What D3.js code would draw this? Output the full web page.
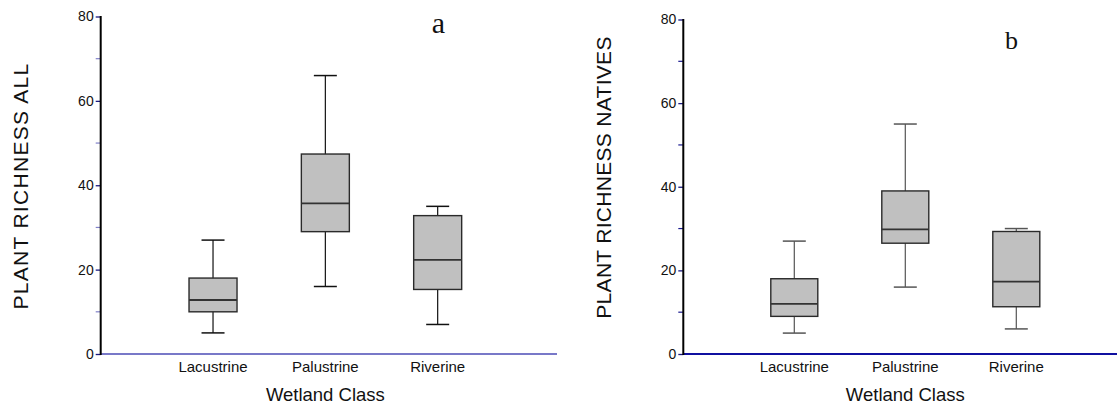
<!DOCTYPE html>
<html>
<head>
<meta charset="utf-8">
<script src="https://cdn.jsdelivr.net/npm/d3@7"></script>
<style>
  body { margin: 0; background: #fff; }
  svg { display: block; font-family: Arial, "Liberation Sans", sans-serif; }
</style>
</head>
<body>
<svg id="chart" width="1117" height="409"></svg>
<script>
// categories + box stats
var classes = ["Lacustrine", "Palustrine", "Riverine"];
var yTicks = [0, 20, 40, 60, 80];
var yMinorTicks = [10, 30, 50, 70];

// panel a: all species
var allMin = [5, 16, 7],
    allQ1 = [10, 29, 15.3],
    allMed = [12.8, 35.7, 22.3],
    allQ3 = [18, 47.4, 32.8],
    allMax = [27, 66, 35];

// panel b: natives only
var natMin = [5, 16, 6],
    natQ1 = [9, 26.5, 11.3],
    natMed = [12, 29.8, 17.3],
    natQ3 = [18, 39, 29.3],
    natMax = [27, 55, 30];

var svg = d3.select("#chart");

function buildRows(mins, q1s, meds, q3s, maxs) {
  return classes.map(function(c, i) {
    return {name: c, min: mins[i], q1: q1s[i], med: meds[i], q3: q3s[i], max: maxs[i]};
  });
}

function drawPanel(opt) {
  var rows = buildRows(opt.min, opt.q1, opt.med, opt.q3, opt.max);

  var y = d3.scaleLinear().domain([0, 80]).range([opt.y0, opt.yTop]);
  var x = d3.scalePoint().domain(classes).range([opt.left, opt.rightEnd]).padding(1);

  var g = svg.append("g");

  // whiskers
  g.selectAll(".whisker")
    .data(rows)
    .enter().append("line")
      .attr("x1", function(d) {return x(d.name);})
      .attr("x2", function(d) {return x(d.name);})
      .attr("y1", function(d) {return y(d.min);})
      .attr("y2", function(d) {return y(d.max);})
      .attr("stroke", opt.whiskerColor)
      .attr("stroke-width", 1.2);

  // caps top and bottom
  ["min", "max"].forEach(function(k) {
    g.selectAll(".cap-" + k)
      .data(rows)
      .enter().append("line")
        .attr("x1", function(d) {return x(d.name) - opt.capW / 2;})
        .attr("x2", function(d) {return x(d.name) + opt.capW / 2;})
        .attr("y1", function(d) {return y(d[k]);})
        .attr("y2", function(d) {return y(d[k]);})
        .attr("stroke", opt.whiskerColor)
        .attr("stroke-width", 1.5);
  });

  // boxes
  g.selectAll(".box")
    .data(rows)
    .enter().append("rect")
      .attr("x", function(d) {return x(d.name) - opt.boxW / 2;})
      .attr("y", function(d) {return y(d.q3);})
      .attr("width", opt.boxW)
      .attr("height", function(d) {return y(d.q1) - y(d.q3);})
      .attr("fill", "#c0c0c0")
      .attr("stroke", "#2a2a2a")
      .attr("stroke-width", 1.4);

  // medians
  g.selectAll(".median")
    .data(rows)
    .enter().append("line")
      .attr("x1", function(d) {return x(d.name) - opt.boxW / 2;})
      .attr("x2", function(d) {return x(d.name) + opt.boxW / 2;})
      .attr("y1", function(d) {return y(d.med);})
      .attr("y2", function(d) {return y(d.med);})
      .attr("stroke", "#333")
      .attr("stroke-width", 1.8);

  // x axis line (no ticks)
  g.append("line")
    .attr("x1", opt.left).attr("x2", opt.axisEnd)
    .attr("y1", y(0)).attr("y2", y(0))
    .attr("stroke", opt.xAxisColor)
    .attr("stroke-width", 2);

  // minor ticks
  g.selectAll(".minor")
    .data(yMinorTicks)
    .enter().append("line")
      .attr("x1", opt.left - 5).attr("x2", opt.left)
      .attr("y1", function(d) {return y(d);})
      .attr("y2", function(d) {return y(d);})
      .attr("stroke", opt.minorColor)
      .attr("stroke-width", 1.2);

  // y axis
  var yAxis = g.append("g")
    .attr("transform", "translate(" + opt.left + ",0)")
    .call(d3.axisLeft(y).tickValues(yTicks).tickSize(5).tickPadding(2).tickFormat(d3.format("d")));
  yAxis.select(".domain").remove();
  yAxis.selectAll(".tick line").attr("stroke", "#1a1a80").attr("stroke-width", 1.3);
  yAxis.selectAll(".tick text")
    .attr("fill", "#111")
    .style("font-size", "14px")
    .style("font-family", "Arial, 'Liberation Sans', sans-serif");
  g.append("line")
    .attr("x1", opt.left).attr("x2", opt.left)
    .attr("y1", y(80) - 0.5).attr("y2", y(0) + 1)
    .attr("stroke", "#000")
    .attr("stroke-width", 2);

  // category labels
  g.selectAll(".cat")
    .data(classes)
    .enter().append("text")
      .attr("x", function(d) {return x(d);})
      .attr("y", 372)
      .attr("text-anchor", "middle")
      .style("font-size", "15px")
      .attr("fill", "#111")
      .text(function(d) {return d;});

  // x title
  g.append("text")
    .attr("x", x("Palustrine"))
    .attr("y", 401)
    .attr("text-anchor", "middle")
    .style("font-size", "18.5px")
    .attr("fill", "#111")
    .text("Wetland Class");

  // y title
  g.append("text")
    .attr("transform", "translate(" + opt.yTitleX + "," + opt.yTitleY + ") rotate(-90)")
    .attr("text-anchor", "middle")
    .style("font-size", opt.yTitleSize + "px")
    .style("letter-spacing", opt.yTitleSpacing + "px")
    .attr("fill", "#111")
    .text(opt.yTitle);

  // panel letter
  g.append("text")
    .attr("x", opt.letterX)
    .attr("y", opt.letterY)
    .attr("text-anchor", "middle")
    .style("font-family", "'Liberation Serif', 'Times New Roman', serif")
    .style("font-size", opt.letterSize + "px")
    .attr("fill", "#111")
    .text(opt.letter);
}

drawPanel({
  min: allMin, q1: allQ1, med: allMed, q3: allQ3, max: allMax,
  left: 100.7, rightEnd: 550, axisEnd: 557, y0: 354, yTop: 16.5,
  boxW: 48, capW: 23,
  whiskerColor: "#111", xAxisColor: "#7878c8", minorColor: "#8080c8",
  yTitle: "PLANT RICHNESS ALL", yTitleX: 28, yTitleY: 186, yTitleSize: 21, yTitleSpacing: 1.3,
  letter: "a", letterX: 438.5, letterY: 33, letterSize: 30
});

drawPanel({
  min: natMin, q1: natQ1, med: natMed, q3: natQ3, max: natMax,
  left: 683.3, rightEnd: 1127.3, axisEnd: 1117, y0: 354, yTop: 19.5,
  boxW: 47, capW: 23,
  whiskerColor: "#555", xAxisColor: "#1010a0", minorColor: "#1a1a90",
  yTitle: "PLANT RICHNESS NATIVES", yTitleX: 611, yTitleY: 177.5, yTitleSize: 21, yTitleSpacing: 0.3,
  letter: "b", letterX: 1011.5, letterY: 49, letterSize: 26
});
</script>
</body>
</html>
